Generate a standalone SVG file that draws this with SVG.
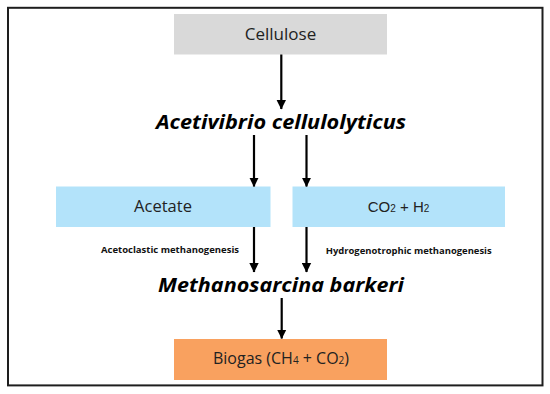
<svg xmlns="http://www.w3.org/2000/svg" width="550" height="394" viewBox="0 0 550 394">
<defs>
<style>
.box-gray{fill:#d9d9d9}
.box-blue{fill:#b3e3fa}
.box-orange{fill:#f9a15f}
.lbl{font-family:"Open Sans","Liberation Sans",sans-serif;font-size:16px;fill:#222;text-anchor:middle}
.arial{font-family:"Liberation Sans",Arial,sans-serif;font-size:15px;fill:#222;text-anchor:middle}
.org{font-family:"Open Sans","Liberation Sans",sans-serif;font-weight:bold;font-style:italic;font-size:20px;fill:#000}
.small{font-family:"Open Sans","Liberation Sans",sans-serif;font-weight:bold;font-size:9.5px;fill:#111}
.conn{stroke:#000;stroke-width:2.2;fill:none;marker-end:url(#ah)}
</style>
<marker id="ah" markerUnits="userSpaceOnUse" markerWidth="10" markerHeight="10" refX="9" refY="5" orient="auto" viewBox="0 0 10 10">
<path d="M0,0.3 L9.5,5 L0,9.7 z" fill="#000"/>
</marker>
</defs>
<rect x="8" y="7.8" width="534.5" height="377.6" fill="#fff" stroke="#1e1e1e" stroke-width="2"/>
<g id="cellulose">
<rect class="box-gray" x="174" y="14" width="213" height="40.5"/>
<text class="lbl" x="280.5" y="40" style="font-size:17px">Cellulose</text>
</g>
<g id="acetivibrio">
<text class="org" x="156" y="129" textLength="250" lengthAdjust="spacingAndGlyphs">Acetivibrio cellulolyticus</text>
</g>
<g id="acetate">
<rect class="box-blue" x="56" y="186.5" width="214.5" height="40.5"/>
<text class="lbl" x="163" y="212.3" style="font-size:16.5px">Acetate</text>
</g>
<g id="co2h2">
<rect class="box-blue" x="292.5" y="186.5" width="212.5" height="40.5"/>
<text class="arial" x="398.5" y="211.7">CO<tspan font-size="10">2</tspan> + H<tspan font-size="10">2</tspan></text>
</g>
<g id="methanosarcina">
<text class="org" x="158" y="291.7" textLength="246" lengthAdjust="spacingAndGlyphs">Methanosarcina barkeri</text>
</g>
<g id="biogas">
<rect class="box-orange" x="174" y="339" width="213" height="41"/>
<text class="lbl" x="281" y="363.5">Biogas (CH<tspan font-size="10">4</tspan> + CO<tspan font-size="10">2</tspan>)</text>
</g>
<g id="connectors">
<line class="conn" x1="281.3" y1="54.5" x2="281.3" y2="109"/>
<line class="conn" x1="254" y1="135" x2="254" y2="186.5"/>
<line class="conn" x1="306.5" y1="135" x2="306.5" y2="186.5"/>
<line class="conn" x1="254" y1="227" x2="254" y2="272"/>
<line class="conn" x1="306.5" y1="227" x2="306.5" y2="272"/>
<line class="conn" x1="281.7" y1="298" x2="281.7" y2="338.5"/>
<text class="small" x="101" y="252.7" textLength="138" lengthAdjust="spacingAndGlyphs">Acetoclastic methanogenesis</text>
<text class="small" x="325.7" y="254" textLength="166" lengthAdjust="spacingAndGlyphs">Hydrogenotrophic methanogenesis</text>
</g>
</svg>
